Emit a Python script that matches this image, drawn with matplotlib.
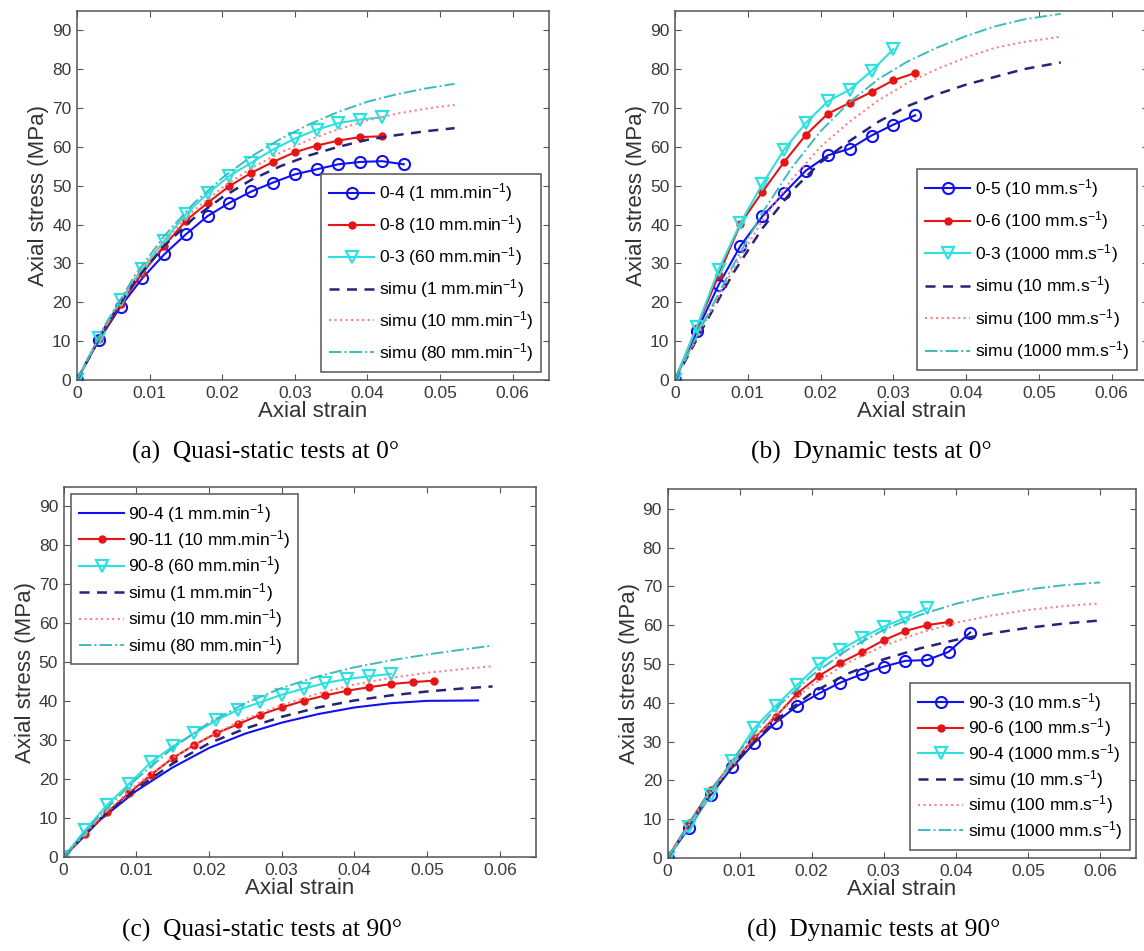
import matplotlib
matplotlib.use('Agg')
import matplotlib.pyplot as plt

plt.rcParams['font.family'] = ['Liberation Sans', 'DejaVu Sans']
plt.rcParams['mathtext.default'] = 'regular'

# ---- (a) quasi-static 0 deg ----
a_strain_04 = [0, 0.003, 0.006, 0.009, 0.012, 0.015, 0.018, 0.021, 0.024, 0.027, 0.030, 0.033, 0.036, 0.039, 0.042, 0.045]
a_stress_04 = [0, 10.2, 18.9, 26.2, 32.3, 37.5, 42.2, 45.6, 48.5, 50.8, 52.9, 54.2, 55.5, 56.1, 56.3, 55.5]
a_strain_08 = [0, 0.003, 0.006, 0.009, 0.012, 0.015, 0.018, 0.021, 0.024, 0.027, 0.030, 0.033, 0.036, 0.039, 0.042]
a_stress_08 = [0, 10.5, 19.5, 27.5, 34.5, 41.0, 45.6, 49.9, 53.3, 56.1, 58.6, 60.3, 61.6, 62.5, 62.7]
a_strain_03 = [0, 0.003, 0.006, 0.009, 0.012, 0.015, 0.018, 0.021, 0.024, 0.027, 0.030, 0.033, 0.036, 0.039, 0.042]
a_stress_03 = [0, 10.8, 20.5, 28.5, 35.8, 42.7, 48.0, 52.5, 55.9, 59.3, 62.1, 64.4, 66.1, 67.0, 67.6]
a_simu_strain = [0, 0.004, 0.008, 0.012, 0.016, 0.020, 0.024, 0.028, 0.032, 0.036, 0.040, 0.044, 0.048, 0.052]
a_simu_1 = [0, 14.0, 25.5, 34.5, 41.5, 47.0, 51.5, 55.0, 57.8, 60.0, 61.8, 63.0, 64.0, 64.8]
a_simu_10 = [0, 14.3, 26.3, 35.8, 43.5, 49.5, 54.5, 58.5, 61.8, 64.5, 66.8, 68.5, 69.8, 70.8]
a_simu_80 = [0, 14.6, 27.0, 37.0, 45.3, 52.0, 57.5, 62.0, 65.8, 69.0, 71.6, 73.5, 75.0, 76.2]
a_labels = ['0-4 (1 mm.min$^{-1}$)', '0-8 (10 mm.min$^{-1}$)', '0-3 (60 mm.min$^{-1}$)',
            'simu (1 mm.min$^{-1}$)', 'simu (10 mm.min$^{-1}$)', 'simu (80 mm.min$^{-1}$)']

# ---- (b) dynamic 0 deg ----
b_strain_05 = [0, 0.003, 0.006, 0.009, 0.012, 0.015, 0.018, 0.021, 0.024, 0.027, 0.030, 0.033]
b_stress_05 = [0, 12.5, 24.5, 34.5, 42.1, 48.1, 53.9, 57.8, 59.5, 62.9, 65.7, 68.1]
b_strain_06 = [0, 0.003, 0.006, 0.009, 0.012, 0.015, 0.018, 0.021, 0.024, 0.027, 0.030, 0.033]
b_stress_06 = [0, 13.5, 27.0, 40.2, 48.4, 56.1, 63.1, 68.5, 71.3, 74.1, 77.1, 79.0]
b_strain_03 = [0, 0.003, 0.006, 0.009, 0.012, 0.015, 0.018, 0.021, 0.024, 0.027, 0.030]
b_stress_03 = [0, 13.7, 28.4, 40.4, 50.4, 59.3, 66.2, 71.7, 74.7, 79.5, 85.1]
b_simu_strain = [0, 0.004, 0.008, 0.012, 0.016, 0.020, 0.024, 0.028, 0.032, 0.036, 0.040, 0.044, 0.048, 0.053]
b_simu_10 = [0, 14.0, 27.5, 39.0, 48.5, 56.0, 61.5, 66.5, 70.5, 73.5, 76.0, 78.0, 80.0, 81.7]
b_simu_100 = [0, 14.5, 28.5, 41.0, 51.5, 60.0, 66.5, 72.0, 76.5, 80.0, 83.0, 85.5, 87.0, 88.3]
b_simu_1000 = [0, 15.0, 29.5, 43.0, 54.5, 64.0, 71.5, 77.5, 82.0, 85.5, 88.5, 91.0, 92.8, 94.2]
b_labels = ['0-5 (10 mm.s$^{-1}$)', '0-6 (100 mm.s$^{-1}$)', '0-3 (1000 mm.s$^{-1}$)',
            'simu (10 mm.s$^{-1}$)', 'simu (100 mm.s$^{-1}$)', 'simu (1000 mm.s$^{-1}$)']

# ---- (c) quasi-static 90 deg ----
c_strain_904 = [0, 0.005, 0.010, 0.015, 0.020, 0.025, 0.030, 0.035, 0.040, 0.045, 0.050, 0.057]
c_stress_904 = [0, 9.5, 17.0, 23.0, 28.0, 31.7, 34.5, 36.7, 38.4, 39.5, 40.1, 40.2]
c_strain_9011 = [0, 0.003, 0.006, 0.009, 0.012, 0.015, 0.018, 0.021, 0.024, 0.027, 0.030, 0.033, 0.036,
                 0.039, 0.042, 0.045, 0.048, 0.051]
c_stress_9011 = [0, 5.9, 11.5, 16.4, 21.1, 25.4, 28.8, 31.8, 34.1, 36.5, 38.4, 40.1, 41.5,
                 42.7, 43.6, 44.4, 44.9, 45.3]
c_strain_908 = [0, 0.003, 0.006, 0.009, 0.012, 0.015, 0.018, 0.021, 0.024, 0.027, 0.030, 0.033, 0.036,
                0.039, 0.042, 0.045]
c_stress_908 = [0, 7.0, 13.4, 18.8, 24.3, 28.4, 31.8, 35.1, 37.8, 39.7, 41.7, 43.2, 44.7, 45.7, 46.4, 47.0]
c_simu_strain = [0, 0.005, 0.010, 0.015, 0.020, 0.025, 0.030, 0.035, 0.040, 0.045, 0.050, 0.055, 0.059]
c_simu_1 = [0, 9.8, 17.5, 24.0, 29.2, 33.0, 36.0, 38.4, 40.2, 41.5, 42.5, 43.3, 43.8]
c_simu_10 = [0, 10.2, 18.5, 25.5, 31.0, 35.5, 39.0, 42.0, 44.3, 46.0, 47.3, 48.3, 49.0]
c_simu_80 = [0, 10.8, 20.0, 28.0, 34.5, 39.5, 43.4, 46.4, 48.7, 50.5, 52.0, 53.3, 54.3]
c_labels = ['90-4 (1 mm.min$^{-1}$)', '90-11 (10 mm.min$^{-1}$)', '90-8 (60 mm.min$^{-1}$)',
            'simu (1 mm.min$^{-1}$)', 'simu (10 mm.min$^{-1}$)', 'simu (80 mm.min$^{-1}$)']

# ---- (d) dynamic 90 deg ----
d_strain_903 = [0, 0.003, 0.006, 0.009, 0.012, 0.015, 0.018, 0.021, 0.024, 0.027, 0.030, 0.033, 0.036, 0.039, 0.042]
d_stress_903 = [0, 7.8, 16.3, 23.4, 29.6, 34.9, 39.2, 42.4, 45.2, 47.4, 49.3, 50.8, 51.0, 53.1, 58.1]
d_strain_906 = [0, 0.003, 0.006, 0.009, 0.012, 0.015, 0.018, 0.021, 0.024, 0.027, 0.030, 0.033, 0.036, 0.039]
d_stress_906 = [0, 9.0, 17.6, 24.4, 30.8, 36.4, 42.4, 46.9, 50.3, 53.1, 56.1, 58.5, 60.0, 60.8]
d_strain_904 = [0, 0.003, 0.006, 0.009, 0.012, 0.015, 0.018, 0.021, 0.024, 0.027, 0.030, 0.033, 0.036]
d_stress_904 = [0, 8.1, 16.3, 24.9, 33.4, 39.2, 44.6, 49.9, 53.6, 56.8, 59.6, 61.9, 64.3]
d_simu_strain = [0, 0.005, 0.010, 0.015, 0.020, 0.025, 0.030, 0.035, 0.040, 0.045, 0.050, 0.055, 0.060]
d_simu_10 = [0, 14.0, 26.0, 35.5, 42.5, 47.5, 51.2, 54.0, 56.2, 57.9, 59.3, 60.4, 61.2]
d_simu_100 = [0, 14.3, 26.8, 36.8, 44.5, 50.3, 54.7, 58.0, 60.6, 62.5, 63.9, 64.9, 65.6]
d_simu_1000 = [0, 14.8, 27.7, 38.5, 47.0, 53.7, 58.8, 62.6, 65.5, 67.6, 69.2, 70.3, 71.0]
d_labels = ['90-3 (10 mm.s$^{-1}$)', '90-6 (100 mm.s$^{-1}$)', '90-4 (1000 mm.s$^{-1}$)',
            'simu (10 mm.s$^{-1}$)', 'simu (100 mm.s$^{-1}$)', 'simu (1000 mm.s$^{-1}$)']

captions = ['(a)  Quasi-static tests at 0°', '(b)  Dynamic tests at 0°',
            '(c)  Quasi-static tests at 90°', '(d)  Dynamic tests at 90°']

x_ticks = [0, 0.01, 0.02, 0.03, 0.04, 0.05, 0.06]
x_tick_labels = ['0', '0.01', '0.02', '0.03', '0.04', '0.05', '0.06']
y_ticks = [0, 10, 20, 30, 40, 50, 60, 70, 80, 90]

BLUE = '#1010f0'
RED = '#e61414'
CYAN = '#2ee0e0'
NAVY = '#24247a'
PINK = '#ff8080'
TEAL = '#3cbcbc'
GREY = '#555555'


def draw_panel(ax, exp, simu, labels, blue_markers=True):
    (s1, y1), (s2, y2), (s3, y3) = exp
    sx, sim1, sim2, sim3 = simu
    if blue_markers:
        ax.plot(s1, y1, '-o', color=BLUE, lw=1.5, ms=8, mfc='none', mew=1.5)
    else:
        ax.plot(s1, y1, '-', color=BLUE, lw=1.5)
    ax.plot(s2, y2, '-o', color=RED, lw=1.5, ms=5, mew=1)
    ax.plot(s3, y3, '-v', color=CYAN, lw=1.5, ms=8, mfc='none', mew=1.6)
    ax.plot(sx, sim1, color=NAVY, lw=1.8, dashes=(4, 3))
    ax.plot(sx, sim2, ':', color=PINK, lw=1.5)
    ax.plot(sx, sim3, '-.', color=TEAL, lw=1.4)

    ax.set_xlim(0, 0.065)
    ax.set_ylim(0, 95)
    ax.set_xticks(x_ticks)
    ax.set_xticklabels(x_tick_labels)
    ax.set_yticks(y_ticks)
    ax.tick_params(direction='in', top=True, right=True, length=4, width=0.8,
                   color=GREY, labelcolor='#3a3a3a', labelsize=12.5, pad=4)
    for sp in ax.spines.values():
        sp.set_color(GREY)
        sp.set_linewidth(1.1)
    ax.set_xlabel('Axial strain', fontsize=16, color='#333333', labelpad=0)
    ax.set_ylabel('Axial stress (MPa)', fontsize=16, color='#333333', labelpad=2)
    for line, lab in zip(ax.lines, labels):
        line.set_label(lab)


fig = plt.figure(figsize=(11.44, 9.51), dpi=100)

ax_a = fig.add_axes([0.0673, 0.6004, 0.4126, 0.3883])
ax_b = fig.add_axes([0.590, 0.6004, 0.4136, 0.3883])
ax_c = fig.add_axes([0.0556, 0.0988, 0.4131, 0.3891])
ax_d = fig.add_axes([0.5835, 0.0978, 0.4095, 0.3877])

draw_panel(ax_a, [(a_strain_04, a_stress_04), (a_strain_08, a_stress_08), (a_strain_03, a_stress_03)],
           (a_simu_strain, a_simu_1, a_simu_10, a_simu_80), a_labels)
draw_panel(ax_b, [(b_strain_05, b_stress_05), (b_strain_06, b_stress_06), (b_strain_03, b_stress_03)],
           (b_simu_strain, b_simu_10, b_simu_100, b_simu_1000), b_labels)
draw_panel(ax_c, [(c_strain_904, c_stress_904), (c_strain_9011, c_stress_9011), (c_strain_908, c_stress_908)],
           (c_simu_strain, c_simu_1, c_simu_10, c_simu_80), c_labels, blue_markers=False)
draw_panel(ax_d, [(d_strain_903, d_stress_903), (d_strain_906, d_stress_906), (d_strain_904, d_stress_904)],
           (d_simu_strain, d_simu_10, d_simu_100, d_simu_1000), d_labels)

leg_kw = dict(fontsize=12.5, frameon=True, fancybox=False, framealpha=1, edgecolor=GREY,
              handlelength=2.6, handletextpad=0.25, borderpad=0.45, borderaxespad=0)
ax_a.legend(loc='lower right', bbox_to_anchor=(0.983, 0.022), labelspacing=0.52, **leg_kw)
ax_b.legend(loc='lower right', bbox_to_anchor=(0.976, 0.027), labelspacing=0.55, **leg_kw)
ax_c.legend(loc='upper left', bbox_to_anchor=(0.016, 0.981), labelspacing=0.2, **leg_kw)
ax_d.legend(loc='lower right', bbox_to_anchor=(0.987, 0.022), labelspacing=0.16, **leg_kw)
for ax in (ax_a, ax_b, ax_c, ax_d):
    ax.get_legend().get_frame().set_linewidth(1.1)

cap_pos = [(266 / 1144, 1 - 452 / 951), (871 / 1144, 1 - 452 / 951),
           (262 / 1144, 1 - 930 / 951), (874 / 1144, 1 - 930 / 951)]
for (cx, cy), txt in zip(cap_pos, captions):
    fig.text(cx, cy, txt, ha='center', va='center', fontsize=18.3,
             family=['Liberation Serif', 'DejaVu Serif'])

fig.savefig('out.png', dpi=100)
